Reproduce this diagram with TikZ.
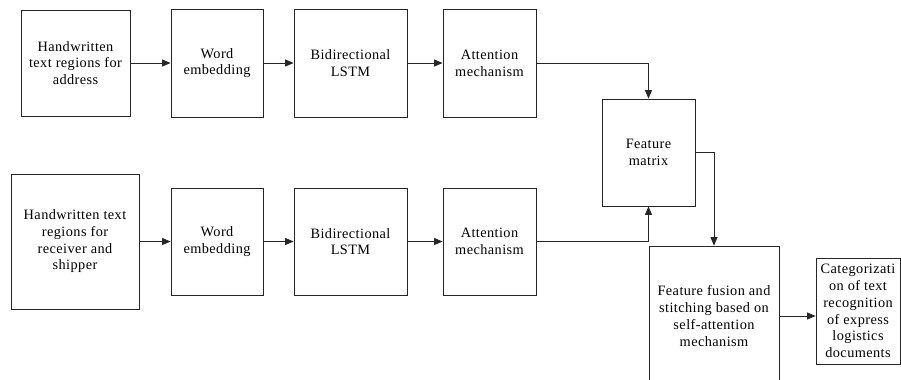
\documentclass[tikz,border=0pt]{standalone}
\usepackage{fontspec}
\setmainfont{Liberation Serif}
\newfontfamily\boxfont[LetterSpace=3]{Liberation Serif}
\usetikzlibrary{arrows.meta}
\begin{document}
\begin{tikzpicture}[x=1bp,y=-1bp,
  box/.style={draw=black!85, line width=0.8bp, align=center, inner sep=0pt,
    font=\boxfont\fontsize{14.3bp}{16.7bp}\selectfont},
  link/.style={draw=black!85, line width=0.8bp, -{Triangle[length=8.5bp,width=7bp]}},
  plain/.style={draw=black!85, line width=0.8bp}]
\useasboundingbox (0,0) rectangle (901,379);
\clip (0,0) rectangle (901,379);
\node[box, minimum width=109bp, minimum height=106bp] (a1) at (75.5,63) {Handwritten\\text regions for\\address};
\node[box, minimum width=92bp, minimum height=108bp] (w1) at (217,63) {Word\\embedding};
\node[box, minimum width=113bp, minimum height=108bp] (b1) at (350.5,63) {Bidirectional\\LSTM};
\node[box, minimum width=93bp, minimum height=108bp] (t1) at (489.5,63) {Attention\\mechanism};
\node[box, minimum width=128bp, minimum height=135bp] (a2) at (75,241.5) {Handwritten text\\regions for\\receiver and\\shipper};
\node[box, minimum width=92bp, minimum height=107bp] (w2) at (217,241.5) {Word\\embedding};
\node[box, minimum width=113bp, minimum height=107bp] (b2) at (350.5,241.5) {Bidirectional\\LSTM};
\node[box, minimum width=93bp, minimum height=107bp] (t2) at (489.5,241.5) {Attention\\mechanism};
\node[box, minimum width=93bp, minimum height=107bp] (fm) at (648.5,152.5) {Feature\\matrix};
\node[box, minimum width=130bp, minimum height=140bp] (ff) at (714,316) {Feature fusion and\\stitching based on\\self-attention\\mechanism};
\node[box, minimum width=84bp, minimum height=106bp] (ct) at (858,311) {Categorizati\\on of text\\recognition\\of express\\logistics\\documents};
\draw[link] (a1) -- (w1);
\draw[link] (w1) -- (b1);
\draw[link] (b1) -- (t1);
\draw[link] (t1.east) -| (fm.north);
\draw[link] (a2) -- (w2);
\draw[link] (w2) -- (b2);
\draw[link] (b2) -- (t2);
\draw[link] (t2.east) -| (fm.south);
\draw[link] (fm.east) -| (ff.north);
\draw[link] (ff.east) -- (ff.east -| ct.west);
\end{tikzpicture}
\end{document}
